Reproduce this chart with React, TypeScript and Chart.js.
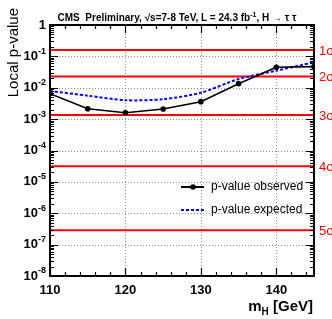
import React, { useEffect, useRef } from "react";
import { Chart, registerables } from "chart.js";

Chart.register(...registerables);

const massPoints = [110, 115, 120, 125, 130, 135, 140, 145];
const observedP = [6.5e-3, 2.15e-3, 1.6e-3, 2.1e-3, 3.6e-3, 1.35e-2, 4.5e-2, 4.7e-2];
const expectedP = [7.9e-3, 5.6e-3, 4.0e-3, 4.3e-3, 6.9e-3, 1.9e-2, 3.5e-2, 6.5e-2];
const sigmaLabels = ["1σ", "2σ", "3σ", "4σ", "5σ"];
const sigmaP = [0.1587, 0.02275, 1.35e-3, 3.17e-5, 2.87e-7];
const xTickLabels = [110, 120, 130, 140];
const yDecades = [0, -1, -2, -3, -4, -5, -6, -7, -8];
const legendLabels = ["p-value observed", "p-value expected"];

const FONT = "'Liberation Sans', Arial, Helvetica, sans-serif";

const decorPlugin = {
  id: "decor",
  beforeDatasetsDraw(chart: any) {
    const { ctx, chartArea: a, scales } = chart;
    const x = scales.x;
    const y = scales.y;
    ctx.save();
    ctx.strokeStyle = "#8a8a8a";
    ctx.lineWidth = 1;
    ctx.setLineDash([1, 2]);
    for (const v of xTickLabels) {
      if (v <= x.min || v >= x.max) continue;
      const px = Math.round(x.getPixelForValue(v)) + 0.5;
      ctx.beginPath();
      ctx.moveTo(px, a.top);
      ctx.lineTo(px, a.bottom);
      ctx.stroke();
    }
    for (const d of yDecades) {
      const v = Math.pow(10, d);
      if (v <= y.min || v >= y.max) continue;
      const py = Math.round(y.getPixelForValue(v)) + 0.5;
      ctx.beginPath();
      ctx.moveTo(a.left, py);
      ctx.lineTo(a.right, py);
      ctx.stroke();
    }
    ctx.restore();
  },
  afterDatasetsDraw(chart: any) {
    const { ctx, chartArea: a, scales } = chart;
    const x = scales.x;
    const y = scales.y;
    ctx.save();
    ctx.setLineDash([]);
    ctx.strokeStyle = "#000";
    ctx.lineWidth = 1.2;
    for (let d = -8; d <= 0; d++) {
      for (let k = 1; k <= 9; k++) {
        if (d === 0 && k > 1) break;
        const v = k * Math.pow(10, d);
        const py = Math.round(y.getPixelForValue(v)) + 0.5;
        const len = k === 1 ? 8 : 4;
        ctx.beginPath();
        ctx.moveTo(a.left, py);
        ctx.lineTo(a.left + len, py);
        ctx.moveTo(a.right, py);
        ctx.lineTo(a.right - len, py);
        ctx.stroke();
      }
    }
    for (let v = 110; v <= 145; v += 2) {
      const px = Math.round(x.getPixelForValue(v)) + 0.5;
      const len = v % 10 === 0 ? 8 : 4;
      ctx.beginPath();
      ctx.moveTo(px, a.bottom);
      ctx.lineTo(px, a.bottom - len);
      ctx.moveTo(px, a.top);
      ctx.lineTo(px, a.top + len);
      ctx.stroke();
    }
    ctx.lineWidth = 2;
    ctx.strokeRect(a.left, a.top, a.right - a.left, a.bottom - a.top);

    ctx.fillStyle = "#000";
    ctx.font = `bold 13px ${FONT}`;
    ctx.textAlign = "center";
    ctx.textBaseline = "middle";
    for (const v of xTickLabels) {
      ctx.fillText(String(v), x.getPixelForValue(v), a.bottom + 14);
    }
    for (const d of yDecades) {
      const py = y.getPixelForValue(Math.pow(10, d));
      const right = a.left - 4;
      ctx.textBaseline = "middle";
      if (d === 0) {
        ctx.font = `bold 13px ${FONT}`;
        ctx.textAlign = "right";
        ctx.fillText("1", right, py);
      } else {
        const sup = String(d);
        ctx.font = `bold 9px ${FONT}`;
        const sw = ctx.measureText(sup).width;
        ctx.textAlign = "left";
        ctx.fillText(sup, right - sw, py - 5);
        ctx.font = `bold 13px ${FONT}`;
        ctx.textAlign = "right";
        ctx.fillText("10", right - sw, py);
      }
    }
    ctx.fillStyle = "#ff0000";
    ctx.font = `13px ${FONT}`;
    ctx.textAlign = "left";
    ctx.textBaseline = "middle";
    sigmaLabels.forEach((s, i) => {
      ctx.fillText(s, a.right + 5, y.getPixelForValue(sigmaP[i]) + 1);
    });

    const lx0 = 181;
    const lx1 = 204;
    const rows = [187, 210];
    ctx.font = `12px ${FONT}`;
    ctx.textBaseline = "middle";
    ctx.fillStyle = "#000";
    ctx.strokeStyle = "#000";
    ctx.lineWidth = 2;
    ctx.beginPath();
    ctx.moveTo(lx0, rows[0]);
    ctx.lineTo(lx1, rows[0]);
    ctx.stroke();
    ctx.beginPath();
    ctx.arc(193, rows[0], 2.8, 0, Math.PI * 2);
    ctx.fill();
    ctx.fillText(legendLabels[0], 211, rows[0]);
    ctx.strokeStyle = "#0000ff";
    ctx.setLineDash([3, 2]);
    ctx.beginPath();
    ctx.moveTo(lx0, rows[1]);
    ctx.lineTo(lx1, rows[1]);
    ctx.stroke();
    ctx.setLineDash([]);
    ctx.fillText(legendLabels[1], 211, rows[1]);

    ctx.fillStyle = "#000";
    ctx.textBaseline = "alphabetic";
    ctx.textAlign = "left";
    const t1 = "CMS  Preliminary, √s=7-8 TeV, L = 24.3 fb";
    const t2 = "-1";
    const t3 = ", H → τ τ";
    const big = `bold 10px ${FONT}`;
    const small = `bold 7px ${FONT}`;
    ctx.font = big;
    const w1 = ctx.measureText(t1).width;
    const w3 = ctx.measureText(t3).width;
    ctx.font = small;
    const w2 = ctx.measureText(t2).width;
    const total = w1 + w2 + w3;
    let tx = 177 - total / 2;
    const ty = 21;
    ctx.font = big;
    ctx.fillText(t1, tx, ty);
    tx += w1;
    ctx.font = small;
    ctx.fillText(t2, tx, ty - 4);
    tx += w2;
    ctx.font = big;
    ctx.fillText(t3, tx, ty);

    const xr = 313;
    const xb = 311;
    ctx.font = `bold 15px ${FONT}`;
    const gw = ctx.measureText(" [GeV]").width;
    const mw = ctx.measureText("m").width;
    ctx.font = `bold 10px ${FONT}`;
    const hw = ctx.measureText("H").width;
    let xx = xr - gw - hw - mw;
    ctx.font = `bold 15px ${FONT}`;
    ctx.fillText("m", xx, xb);
    xx += mw;
    ctx.font = `bold 10px ${FONT}`;
    ctx.fillText("H", xx, xb + 4);
    xx += hw;
    ctx.font = `bold 15px ${FONT}`;
    ctx.fillText(" [GeV]", xx, xb);

    ctx.save();
    ctx.translate(18, 8);
    ctx.rotate(-Math.PI / 2);
    ctx.font = `15px ${FONT}`;
    ctx.textAlign = "right";
    ctx.textBaseline = "alphabetic";
    ctx.fillText("Local p-value", 0, 0);
    ctx.restore();

    ctx.restore();
  },
};

export default function App() {
  const ref = useRef<HTMLCanvasElement | null>(null);
  useEffect(() => {
    if (!ref.current) return;
    const pts = (vals: number[]) => massPoints.map((m, i) => ({ x: m, y: vals[i] }));
    const sigmaSets = sigmaP.map((p, i) => ({
      label: sigmaLabels[i],
      data: [
        { x: 110, y: p },
        { x: 145, y: p },
      ],
      borderColor: "#ff0000",
      borderWidth: 2,
      pointRadius: 0,
      fill: false,
    }));
    const chart = new Chart(ref.current, {
      type: "line",
      data: {
        datasets: [
          {
            label: legendLabels[0],
            data: pts(observedP),
            borderColor: "#000",
            backgroundColor: "#000",
            borderWidth: 1.6,
            pointRadius: 2.8,
            pointBackgroundColor: "#000",
            pointBorderWidth: 0,
            fill: false,
          },
          {
            label: legendLabels[1],
            data: pts(expectedP),
            borderColor: "#0000ff",
            borderWidth: 2,
            borderDash: [3, 2],
            pointRadius: 0,
            tension: 0.25,
            fill: false,
          },
          ...sigmaSets,
        ],
      },
      options: {
        animation: false,
        responsive: false,
        maintainAspectRatio: false,
        layout: { padding: { left: 50, top: 25, right: 18, bottom: 43 } },
        plugins: { legend: { display: false }, tooltip: { enabled: false }, title: { display: false } },
        scales: {
          x: { type: "linear", min: 110, max: 145, display: false },
          y: { type: "logarithmic", min: 1e-8, max: 1, display: false },
        },
      },
      plugins: [decorPlugin],
    });
    return () => chart.destroy();
  }, []);
  return (
    <div style={{ position: "fixed", left: 0, top: 0, width: 332, height: 319, background: "#fff" }}>
      <canvas ref={ref} width={332} height={319} style={{ width: 332, height: 319, display: "block" }} />
    </div>
  );
}
